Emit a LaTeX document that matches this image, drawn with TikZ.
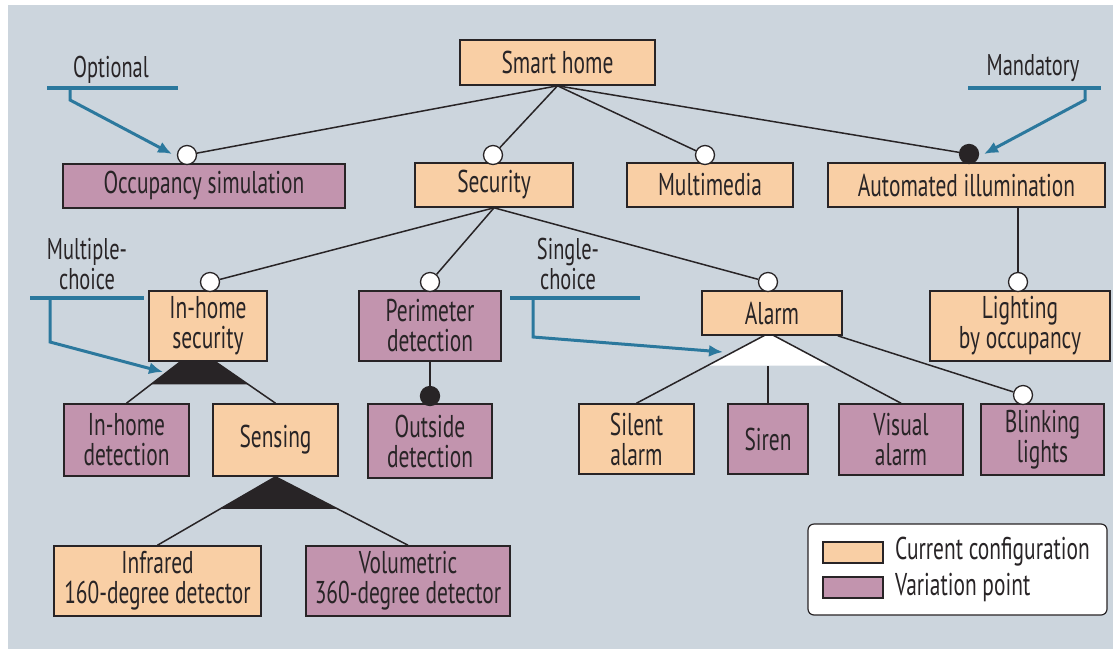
\documentclass[tikz,border=0pt]{standalone}
\usepackage{fontspec}
\setmainfont{PT Sans}[FakeStretch=0.68]
\usetikzlibrary{arrows.meta,backgrounds,calc}
\definecolor{fond}{RGB}{204,213,221}
\definecolor{peche}{RGB}{249,207,165}
\definecolor{mauve}{RGB}{194,148,174}
\definecolor{bleu}{RGB}{43,120,157}
\definecolor{trait}{RGB}{40,36,38}

\begin{document}
\begin{tikzpicture}[x=1pt,y=-1pt]
		\tikzstyle{boite}=[draw=trait, line width=1.6pt, align=center, inner sep=0pt, text=trait, font=\fontsize{31.5}{30}\selectfont]
		\tikzstyle{actuel}=[boite, fill=peche]
		\tikzstyle{variante}=[boite, fill=mauve]
		\tikzstyle{opt}=[circle, draw=trait, line width=1.3pt, fill=white, minimum size=19pt, inner sep=0pt]
		\tikzstyle{obl}=[opt, fill=trait]
		\tikzstyle{lien}=[trait, line width=1.5pt]
		\tikzstyle{fleche}=[bleu, line width=3pt, -{Latex[length=14pt,width=12pt]}]
		\tikzstyle{barre}=[bleu, line width=4pt]
		\tikzstyle{note}=[text=trait, align=center, inner sep=0pt, font=\fontsize{30}{30}\selectfont]
		\useasboundingbox (0,0) rectangle (1113,649);
		% niveau 0 et 1
		\node[actuel, minimum width=195pt, minimum height=45pt] (maison) at (557.5,62.5) {Smart home};
		\node[variante, minimum width=282pt, minimum height=44pt] (occ) at (204,186) {Occupancy simulation};
		\node[actuel, minimum width=158pt, minimum height=44pt] (secu) at (494,185) {Security};
		\node[actuel, minimum width=166pt, minimum height=44pt] (multi) at (710,185) {Multimedia};
		\node[actuel, minimum width=277pt, minimum height=44pt] (eclair) at (966.5,185) {Automated illumination};
		% niveau 2
		\node[actuel, minimum width=118pt, minimum height=70pt] (ihs) at (208,326) {In-home\\security};
		\node[variante, minimum width=142pt, minimum height=70pt] (perim) at (430,326) {Perimeter\\detection};
		\node[actuel, minimum width=140pt, minimum height=44pt] (alarme) at (772,313) {Alarm};
		\node[actuel, minimum width=180pt, minimum height=70pt] (lum) at (1020,326) {Lighting\\by occupancy};
		% niveau 3
		\node[variante, minimum width=125pt, minimum height=72pt] (ihd) at (126.5,440) {In-home\\detection};
		\node[actuel, minimum width=125pt, minimum height=72pt] (capt) at (275.5,440) {Sensing};
		\node[variante, minimum width=124pt, minimum height=74pt] (ext) at (430,441) {Outside\\detection};
		\node[actuel, minimum width=115pt, minimum height=70pt] (silence) at (636.5,439) {Silent\\alarm};
		\node[variante, minimum width=80pt, minimum height=70pt] (sirene) at (768,439) {Siren};
		\node[variante, minimum width=124pt, minimum height=71pt] (visu) at (901,439.5) {Visual\\alarm};
		\node[variante, minimum width=123pt, minimum height=71pt] (clign) at (1042.5,439.5) {Blinking\\lights};
		% niveau 4
		\node[actuel, minimum width=207pt, minimum height=70pt] (ir) at (157.5,581) {Infrared\\160-degree detector};
		\node[variante, minimum width=204pt, minimum height=70pt] (vol) at (408,581) {Volumetric\\360-degree detector};
		% ronds : optionnel / obligatoire
		\node[opt] (o-occ) at (187,155) {};
		\node[opt] (o-secu) at (493,155) {};
		\node[opt] (o-multi) at (705,155) {};
		\node[obl] (o-eclair) at (969,154) {};
		\node[opt] (o-ihs) at (210,282) {};
		\node[opt] (o-perim) at (430,282) {};
		\node[opt] (o-alarme) at (768,282) {};
		\node[opt] (o-lum) at (1018,282) {};
		\node[opt] (o-clign) at (1023,395) {};
		\node[obl] (o-ext) at (430,396) {};
		\begin{scope}[on background layer]
			\fill[white] (0,0) rectangle (1113,649);
			\fill[fond] (8,5) rectangle (1113,649);
			\foreach \c in {o-occ,o-secu,o-multi,o-eclair} \draw[lien] (maison.south) -- (\c);
			\foreach \c in {o-ihs,o-perim,o-alarme} \draw[lien] (secu.south) -- (\c);
			\draw[lien] (o-lum |- eclair.south) -- (o-lum);
			\draw[lien] (perim.south) -- (o-ext);
			\draw[lien] ($(alarme.south east)+(-5,0)$) -- (o-clign);
			% choix multiple (ihs)
			\coordinate (s1) at (197,349);
			\coordinate (g1) at ($(s1)!0.6545!(ihd.north)$);
			\coordinate (d1) at ($(s1)!0.6545!(capt.north)$);
			\fill[trait] (s1) -- (g1) -- (d1) -- cycle;
			\draw[lien] (ihd.north) -- (s1) -- (capt.north);
			% choix multiple (sensing)
			\coordinate (g2) at ($(capt.south)!0.47!(ir.north)$);
			\coordinate (d2) at ($(capt.south)!0.47!(vol.north)$);
			\fill[trait] (capt.south) -- (g2) -- (d2) -- cycle;
			\draw[lien] (ir.north) -- (capt.south) -- (vol.north);
			% choix simple (alarme)
			\coordinate (s3) at (769,333);
			\coordinate (g3) at ($(s3)!0.465!(silence.north)$);
			\coordinate (d3) at ($(s3)!0.465!(visu.north)$);
			\fill[white] (s3) -- (g3) -- (d3) -- cycle;
			\draw[lien] (silence.north) -- (s3) -- (visu.north);
			\draw[lien] (sirene.north) -- (sirene.north |- g3);
		\end{scope}
		% annotations
		\node[note] (t-opt) at (111,70) {Optional};
		\draw[barre] (47,88) -- (178,88);
		\coordinate (b-opt) at (70,88);
		\draw[fleche] (b-opt) -- ++(0,12) -- ($(o-occ)+(-15,-1)$);
		\node[note] (t-obl) at (1033,68) {Mandatory};
		\draw[barre] (968,88) -- (1101,88);
		\coordinate (b-obl) at (1085,88);
		\draw[fleche] (b-obl) -- ++(0,12) -- ($(o-eclair)+(15,0)$);
		\node[note] (t-mult) at (87,264) {Multiple-\\choice};
		\draw[barre] (30,298) -- (144,298);
		\coordinate (b-mult) at (50,298);
		\draw[fleche] (b-mult) -- ++(0,44) -- (163,372);
		\node[note] (t-simple) at (568,264) {Single-\\choice};
		\draw[barre] (510,298) -- (640,298);
		\coordinate (b-simple) at (533,298);
		\draw[fleche] (b-simple) -- ++(0,39) -- (723,352);
		% legende
		\draw[trait, line width=1.2pt, fill=white, rounded corners=6pt] (808,524) rectangle (1107,615);
		\draw[trait, line width=1.3pt, fill=peche] (823,542) rectangle (883,563);
		\draw[trait, line width=1.3pt, fill=mauve] (823,577) rectangle (883,598);
		\node[note, anchor=west, font=\fontsize{31.5}{30}\selectfont] (leg1) at (895,552) {Current configuration};
		\node[note, anchor=west, font=\fontsize{31.5}{30}\selectfont] (leg2) at (895,587) {Variation point};
	\end{tikzpicture}
\end{document}
